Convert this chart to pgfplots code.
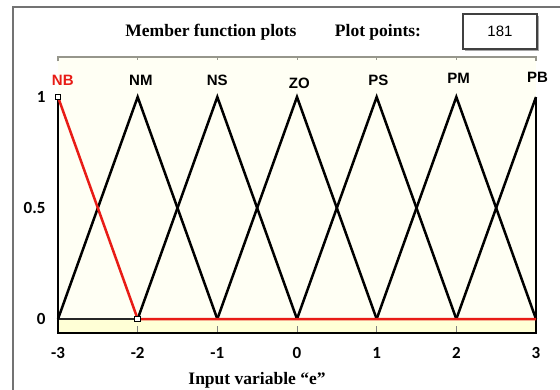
\documentclass[border=0pt]{standalone}
\usepackage{fontspec}
\setmainfont{Liberation Serif}
\newfontfamily\carl{Carlito}
\newfontfamily\arialf{Liberation Sans}
\usepackage{pgfplots}
\pgfplotsset{compat=1.18}
\definecolor{framec}{RGB}{115,115,115}
\definecolor{mfred}{RGB}{232,28,22}
\definecolor{bgy}{RGB}{255,255,244}
\definecolor{stripy}{RGB}{255,255,214}
\definecolor{topl}{RGB}{150,150,140}
\begin{document}
\begin{tikzpicture}[x=1pt,y=1pt]
\useasboundingbox (0,0) rectangle (560,389);
\fill[white] (0,0) rectangle (560,389);
\draw[framec, line width=1.8pt] (13,-2) -- (13,382) -- (562,382);
\node[font=\fontsize{17.5}{19}\selectfont\bfseries] at (211,357) {Member function plots};
\node[font=\fontsize{17.5}{19}\selectfont\bfseries] at (378,357) {Plot points:};
\fill[black!35] (465,338) rectangle (539,373);
\draw[black!75, line width=1.2pt, fill=white] (463,340) rectangle (537,375);
\node[font=\fontsize{15}{17}\selectfont\arialf] at (500,357.5) {181};
\node[font=\fontsize{17.5}{19}\selectfont\bfseries] at (257,9) {Input variable “e”};
\begin{axis}[at={(58pt,56pt)}, anchor=south west, scale only axis,
  width=478pt, height=276pt, xmin=-3, xmax=3, ymin=-0.063, ymax=1.18,
  axis line style={draw=none}, xtick={-3,-2,-1,0,1,2,3}, ytick={0,0.5,1},
  yticklabels={0,0.5,1},
  major tick length=0pt,
  tick label style={font=\fontsize{17}{19}\selectfont\carl\bfseries},
  /pgf/number format/assume math mode=true,
  xticklabel style={yshift=-11pt}, yticklabel style={xshift=-9pt},
  clip=false, axis background/.style={fill=bgy}]
\fill[stripy] (axis cs:-3,-0.063) rectangle (axis cs:3,0);
\draw[topl, line width=1.5pt] (axis cs:-3,1.16) -- (axis cs:-3,1.18) -- (axis cs:3,1.18) -- (axis cs:3,1.16);
\draw[topl, line width=1pt] (axis cs:-2,1.18) -- (axis cs:-2,1.165)
  (axis cs:-1,1.18) -- (axis cs:-1,1.165) (axis cs:0,1.18) -- (axis cs:0,1.165)
  (axis cs:1,1.18) -- (axis cs:1,1.165) (axis cs:2,1.18) -- (axis cs:2,1.165);
\draw[gray, line width=1pt] (axis cs:-2,-0.063) -- (axis cs:-2,-0.03)
  (axis cs:-1,-0.063) -- (axis cs:-1,-0.03) (axis cs:0,-0.063) -- (axis cs:0,-0.03)
  (axis cs:1,-0.063) -- (axis cs:1,-0.03) (axis cs:2,-0.063) -- (axis cs:2,-0.03);
\draw[black!85, line width=1.5pt] (axis cs:-3,0) -- (axis cs:3,0);
\draw[black, line width=1.5pt] (axis cs:-3,1) -- (axis cs:-3,-0.063) -- (axis cs:3,-0.063) -- (axis cs:3,1);
\addplot[black, line width=2.5pt] coordinates {(-3,0) (-2,1) (-1,0)};
\addplot[black, line width=2.5pt] coordinates {(-2,0) (-1,1) (0,0)};
\addplot[black, line width=2.5pt] coordinates {(-1,0) (0,1) (1,0)};
\addplot[black, line width=2.5pt] coordinates {(0,0) (1,1) (2,0)};
\addplot[black, line width=2.5pt] coordinates {(1,0) (2,1) (3,0)};
\addplot[black, line width=2.5pt] coordinates {(2,0) (3,1)};
\addplot[mfred, line width=2.5pt] coordinates {(-3,1) (-2,0) (3,0)};
\addplot[only marks, mark=square*, mark size=2.8pt, mark options={fill=white, draw=black, line width=0.8pt}] coordinates {(-3,1) (-2,0)};
\begin{scope}[every node/.style={font=\fontsize{15}{17}\selectfont\arialf\bfseries}]
\node[text=mfred] at (axis cs:-2.94,1.077) {NB};
\node at (axis cs:-1.96,1.077) {NM};
\node at (axis cs:-1.0,1.077) {NS};
\node at (axis cs:0.03,1.06) {ZO};
\node at (axis cs:1.02,1.077) {PS};
\node at (axis cs:2.03,1.085) {PM};
\node at (axis cs:3.02,1.09) {PB};
\end{scope}
\end{axis}
\end{tikzpicture}
\end{document}
